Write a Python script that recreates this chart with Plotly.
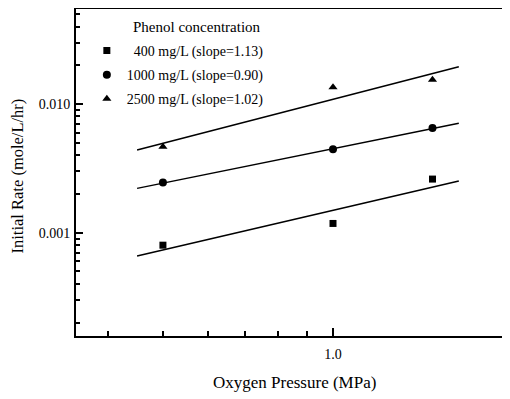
import plotly.graph_objects as go

# ---- data ----
pressure = [0.5, 1.0, 1.5]                      # MPa
rate_400 = [0.00080, 0.00118, 0.00261]          # mole/L/hr
rate_1000 = [0.00245, 0.00445, 0.00651]
rate_2500 = [0.00466, 0.0135, 0.0154]

fit_x = [0.45, 1.67]
fit_400 = [0.00066, 0.00252]
fit_1000 = [0.00221, 0.00708]
fit_2500 = [0.00439, 0.0195]

legend_title = "Phenol concentration"
names = ["\u00a0\u00a0400 mg/L (slope=1.13)",
         "1000 mg/L (slope=0.90)",
         "2500 mg/L (slope=1.02)"]
symbols = ["square", "circle", "triangle-up"]
marker_sizes = [7, 8, 8]

x_major = [1.0]
x_major_text = ["1.0"]
x_minor = [0.4, 0.5, 0.6, 0.7, 0.8, 0.9, 2.0]
y_major = [0.001, 0.01]
y_major_text = ["0.001", "0.010"]
y_minor = [0.0002, 0.0003, 0.0004, 0.0005, 0.0006, 0.0007, 0.0008, 0.0009,
           0.002, 0.003, 0.004, 0.005, 0.006, 0.007, 0.008, 0.009,
           0.02, 0.03, 0.04, 0.05]

FONT = "Times New Roman, Liberation Serif, serif"

fig = go.Figure()
for i, (rates, fits) in enumerate([(rate_400, fit_400), (rate_1000, fit_1000), (rate_2500, fit_2500)]):
    fig.add_trace(go.Scatter(x=fit_x, y=fits, mode="lines",
                             line=dict(color="black", width=1.5),
                             showlegend=False, hoverinfo="skip"))
    fig.add_trace(go.Scatter(x=pressure, y=rates, mode="markers", name=names[i],
                             legendgroup="g%d" % i,
                             marker=dict(symbol=symbols[i], size=marker_sizes[i], color="black")))

# page body has an 8px margin: figure is sized/offset so the plot lands where the reference has it
fig.update_layout(
    width=502, height=391,
    margin=dict(l=68, r=0, t=1, b=63),
    paper_bgcolor="white", plot_bgcolor="white",
    font=dict(family=FONT, size=15, color="black"),
    legend=dict(x=0.025, y=0.921, xanchor="left", yanchor="top",
                bgcolor="rgba(0,0,0,0)", font=dict(size=14, family=FONT),
                tracegroupgap=3, itemwidth=30),
    xaxis=dict(type="log", range=[-0.4549, 0.3133], showgrid=False, zeroline=False,
               showline=True, linecolor="black", linewidth=2, mirror=True,
               tickvals=x_major, ticktext=x_major_text, ticks="inside", ticklen=8,
               tickwidth=1.5, tickcolor="black", ticklabelstandoff=4,
               minor=dict(tickvals=x_minor, ticks="inside", ticklen=5, tickwidth=1.5,
                          tickcolor="black", showgrid=False),
               tickfont=dict(size=14, family=FONT)),
    yaxis=dict(type="log", range=[-3.8026, -1.2618], showgrid=False, zeroline=False,
               showline=True, linecolor="black", linewidth=2, mirror=False,
               tickvals=y_major, ticktext=y_major_text, ticks="inside", ticklen=7,
               tickwidth=1.5, tickcolor="black", ticklabelstandoff=1,
               minor=dict(tickvals=y_minor, ticks="inside", ticklen=4, tickwidth=1.5,
                          tickcolor="black", showgrid=False),
               tickfont=dict(size=14, family=FONT)),
    annotations=[
        dict(text=legend_title, xref="paper", yref="paper", x=0.279, y=0.945,
             xanchor="center", yanchor="middle", showarrow=False,
             font=dict(size=15, family=FONT)),
        dict(text="Oxygen Pressure (MPa)", xref="paper", yref="paper", x=0.5046, y=-0.1437,
             xanchor="center", yanchor="middle", showarrow=False,
             font=dict(size=17, family=FONT)),
        dict(text="Initial Rate (mole/L/hr)", xref="paper", yref="paper", x=-0.135, y=0.489,
             xanchor="center", yanchor="middle", textangle=-90, showarrow=False,
             font=dict(size=16.5, family=FONT)),
    ],
)

fig.write_html("out.html")
